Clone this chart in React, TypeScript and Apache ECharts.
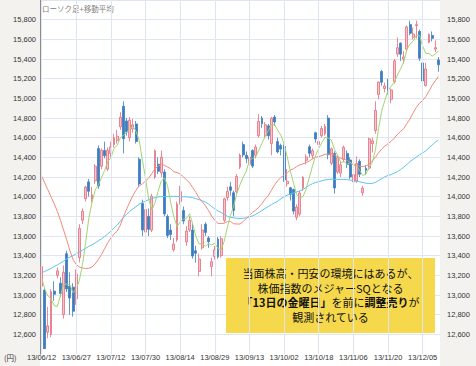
import React, { useEffect, useRef } from 'react';
import * as echarts from 'echarts';

const dates = [
  '13/06/12','13/06/13','13/06/14','13/06/17','13/06/18','13/06/19','13/06/20','13/06/21','13/06/24','13/06/25','13/06/26','13/06/27','13/06/28',
  '13/07/01','13/07/02','13/07/03','13/07/04','13/07/05','13/07/08','13/07/09','13/07/10','13/07/11','13/07/12',
  '13/07/16','13/07/17','13/07/18','13/07/19','13/07/22','13/07/23','13/07/24','13/07/25','13/07/26','13/07/29','13/07/30','13/07/31',
  '13/08/01','13/08/02','13/08/05','13/08/06','13/08/07','13/08/08','13/08/09','13/08/12','13/08/13','13/08/14',
  '13/08/15','13/08/16','13/08/19','13/08/20','13/08/21','13/08/22','13/08/23','13/08/26','13/08/27','13/08/28','13/08/29','13/08/30',
  '13/09/02','13/09/03','13/09/04','13/09/05','13/09/06','13/09/09','13/09/10','13/09/11','13/09/12','13/09/13',
  '13/09/17','13/09/18','13/09/19','13/09/20','13/09/24','13/09/25','13/09/26','13/09/27','13/09/30',
  '13/10/01','13/10/02','13/10/03','13/10/04','13/10/07','13/10/08','13/10/09','13/10/10','13/10/11',
  '13/10/15','13/10/16','13/10/17','13/10/18','13/10/21','13/10/22','13/10/23','13/10/24','13/10/25','13/10/28','13/10/29','13/10/30','13/10/31',
  '13/11/01','13/11/05','13/11/06','13/11/07','13/11/08','13/11/11','13/11/12','13/11/13','13/11/14','13/11/15',
  '13/11/18','13/11/19','13/11/20','13/11/21','13/11/22','13/11/25','13/11/26','13/11/27','13/11/28','13/11/29',
  '13/12/02','13/12/03','13/12/04','13/12/05','13/12/06','13/12/09','13/12/10','13/12/11','13/12/12'
];

const tickLabels = ['13/06/12','13/06/27','13/07/12','13/07/30','13/08/14','13/08/29','13/09/13','13/10/02','13/10/18','13/11/06','13/11/20','13/12/05'];

const openP = [
  13090,13050,12620,12600,13040,13200,13120,12800,13420,13090,13080,12960,13380,
  13760,13980,14150,13975,14160,14490,14310,14470,14280,14440,
  14530,14570,14710,14920,14770,14600,14690,14740,14380,13930,13640,13800,
  13660,14200,14330,14240,14250,13800,13660,13460,13560,13950,
  13860,13540,13660,13660,13450,13240,13480,13720,13580,13290,13390,13570,
  13400,13760,13990,14100,14040,14050,14300,14530,14420,14330,
  14470,14420,14620,14800,14620,14720,14540,14810,14560,
  14520,14510,14130,14090,14073,13790,13823,14090,14370,
  14507,14420,14650,14530,14620,14640,14800,14340,14440,14250,14240,14380,14440,
  14373,14150,14160,14360,14040,14290,14290,14540,14673,15040,
  15273,15100,15190,14990,15170,15450,15560,15400,15500,15750,
  15620,15740,15680,15360,15130,15570,15640,15500,15390
];
const closeP = [
  13289,12445,12686,13033,13007,13245,13014,13230,13062,12969,12834,13213,13677,
  13852,14098,14055,14018,14309,14109,14472,14416,14472,14506,
  14599,14615,14808,14589,14658,14778,14731,14562,14129,13661,13869,13668,
  14005,14466,14258,14401,13824,13605,13615,13519,13924,14050,
  13752,13650,13758,13396,13424,13365,13660,13636,13542,13338,13459,13388,
  13572,13978,14053,14064,13860,14205,14423,14425,14387,14404,
  14311,14505,14766,14742,14732,14620,14799,14760,14455,
  14484,14170,14157,14024,13853,13894,14037,14194,14404,
  14441,14467,14586,14561,14693,14713,14426,14486,14088,14396,14325,14502,14327,
  14201,14225,14337,14228,14086,14269,14588,14567,14876,15165,
  15164,15126,15076,15085,15381,15515,15449,15420,15727,15661,
  15655,15749,15407,15177,15299,15650,15610,15515,15341
];
const lowP = [
  13010,12420,12560,12570,12940,13170,12980,12760,13030,12800,12780,12900,13330,
  13720,13950,14000,13940,14130,14080,14280,14390,14260,14400,
  14500,14540,14680,14440,14620,14560,14650,14540,14100,13600,13600,13600,
  13640,14180,14230,14200,13800,13580,13560,13440,13540,13920,
  13720,13500,13640,13370,13330,13190,13460,13600,13480,13190,13360,13370,
  13380,13740,13960,14010,13800,14030,14280,14400,14340,14300,
  14290,14390,14600,14700,14600,14580,14420,14720,14440,
  14420,14150,14100,13960,13820,13760,13800,14060,14330,
  14400,14380,14550,14500,14600,14620,14380,14320,14030,14230,14200,14350,14290,
  14180,14110,14140,14200,14010,14220,14270,14450,14640,14990,
  15130,15060,15040,14950,15150,15420,15380,15350,15480,15640,
  15600,15610,15380,15140,15120,15560,15580,15470,15270
];
const highP = [
  13340,13070,12880,13060,13140,13280,13180,13300,13450,13230,13120,13260,13720,
  13880,14110,14180,14100,14330,14520,14490,14560,14500,14560,
  14640,14680,14860,14970,14800,14810,14790,14770,14400,13970,13920,13880,
  14030,14480,14400,14470,14280,13820,13720,13580,13950,14110,
  13900,13700,13800,13720,13500,13420,13720,13740,13600,13380,13500,13590,
  13600,13990,14100,14150,14060,14230,14440,14560,14460,14420,
  14480,14530,14840,14820,14760,14740,14810,14830,14600,
  14540,14530,14280,14100,14080,13920,14060,14210,14430,
  14530,14490,14660,14640,14720,14740,14830,14500,14460,14420,14360,14520,14470,
  14400,14300,14410,14380,14110,14320,14600,14600,14970,15170,
  15290,15160,15200,15100,15400,15620,15570,15480,15740,15790,
  15720,15790,15700,15380,15360,15660,15680,15590,15420
];

const ma5 = [
  13180,13060,12990,12960,12892,12883,12997,13106,13112,13104,13022,13062,13151,
  13309,13535,13779,13940,14066,14118,14193,14265,14356,14395,
  14493,14522,14600,14623,14654,14690,14713,14664,14572,14372,14190,13978,
  13866,13934,14053,14160,14191,14111,13941,13793,13697,13743,
  13772,13779,13827,13721,13596,13519,13521,13496,13525,13508,13527,13473,
  13460,13547,13690,13811,13905,14032,14121,14195,14260,14369,
  14390,14406,14475,14546,14611,14673,14732,14731,14673,
  14624,14534,14405,14258,14138,14020,13993,14000,14076,
  14194,14309,14418,14492,14550,14604,14596,14576,14481,14422,14344,14359,14328,
  14350,14316,14318,14264,14215,14229,14302,14348,14477,14693,
  14872,14980,15081,15123,15166,15237,15301,15370,15498,15554,
  15582,15642,15640,15530,15457,15456,15429,15450,15483
];
const ma25 = [
  14210,14140,14070,14000,13930,13850,13760,13660,13560,13450,13360,13310,13285,
  13275,13270,13272,13285,13315,13360,13410,13470,13530,13580,
  13620,13649,13710,13796,13874,13944,14013,14066,14110,14128,14160,14188,
  14235,14285,14308,14330,14319,14301,14285,14253,14246,14229,
  14203,14170,14140,14092,14044,13986,13949,13908,13859,13803,13759,13729,
  13726,13730,13746,13748,13724,13722,13722,13746,13778,13809,
  13841,13864,13893,13932,13976,14010,14066,14120,14163,
  14196,14218,14242,14270,14285,14306,14324,14333,14347,
  14362,14386,14402,14407,14418,14431,14432,14439,14422,14407,14391,14381,14370,
  14346,14324,14320,14309,14306,14311,14333,14362,14401,14446,
  14485,14514,14539,14564,14596,14634,14664,14692,14744,14791,
  14854,14908,14951,14978,15017,15075,15131,15178,15222
];
const ma75 = [
  13225,13240,13255,13270,13290,13305,13325,13345,13370,13385,13400,13420,13440,
  13455,13475,13495,13510,13530,13550,13570,13595,13620,13650,
  13680,13710,13750,13790,13820,13850,13875,13900,13925,13940,13955,13970,
  13980,13990,13997,14000,14002,14003,14003,14003,14002,14001,
  14000,13998,13995,13990,13980,13970,13958,13945,13925,13900,13875,13855,
  13840,13820,13800,13790,13785,13780,13778,13780,13785,13795,
  13805,13820,13840,13860,13880,13900,13920,13938,13953,
  13980,14000,14015,14029,14037,14048,14059,14074,14093,
  14115,14132,14144,14153,14161,14170,14175,14178,14177,14176,14175,14176,14173,
  14168,14163,14156,14152,14144,14137,14135,14135,14145,14165,
  14183,14202,14216,14225,14240,14254,14276,14300,14328,14357,
  14380,14403,14425,14445,14466,14496,14525,14554,14576
];

const title = 'ローソク足+移動平均';
const noteLines = ['当面株高・円安の環境にはあるが、', '株価指数のメジャーSQとなる', '{b|「13日の金曜日」}を前に{b|調整売り}が', '観測されている'];
const yUnit = '(円)';

export default function App() {
  const ref = useRef<HTMLDivElement>(null);
  useEffect(() => {
    if (!ref.current) return;
    const chart = echarts.init(ref.current, undefined, { renderer: 'svg' });
    const candles = dates.map((_, i) => [openP[i], closeP[i], lowP[i], highP[i]]);
    const labelFont = 'Liberation Sans, Arial, sans-serif';
    const jp = '"Noto Sans CJK JP", sans-serif';
    const yFmt = (v: number) => (v < 12600 || v > 15800 ? '' : v.toLocaleString('en-US'));
    const gridColor = '#dfe6f1';
    chart.setOption({
      animation: false,
      backgroundColor: '#ffffff',
      grid: { left: 40, right: 36, top: -6, bottom: 12, containLabel: false },
      xAxis: {
        type: 'category',
        data: dates,
        boundaryGap: true,
        offset: -6,
        z: 100,
        axisLine: { show: false },
        axisTick: { show: false },
        axisLabel: {
          interval: (i: number) => i % 11 === 0,
          formatter: (_v: string, i: number) => tickLabels[Math.round(i / 11)] ?? '',
          color: '#333',
          fontSize: 7.5,
          fontFamily: labelFont,
          margin: 5,
        },
        splitLine: {
          show: true,
          interval: (i: number) => i % 11 === 0,
          alignWithLabel: true,
          lineStyle: { color: gridColor, width: 1 },
        },
      },
      yAxis: [
        {
          type: 'value', position: 'left', min: 12400, max: 16000, interval: 200,
          axisLine: { show: true, lineStyle: { color: '#8c8c8c' } },
          axisTick: { show: false },
          axisLabel: { formatter: yFmt, color: '#333', fontSize: 7.5, fontFamily: labelFont, margin: 4 },
          splitLine: { show: true, lineStyle: { color: gridColor, width: 1 } },
        },
        {
          type: 'value', position: 'right', min: 12400, max: 16000, interval: 200,
          axisLine: { show: false },
          axisTick: { show: false },
          axisLabel: { formatter: yFmt, color: '#333', fontSize: 7.5, fontFamily: labelFont, margin: 7 },
          splitLine: { show: false },
        },
      ],
      series: [
        {
          type: 'candlestick',
          data: candles,
          barWidth: 2.4,
          itemStyle: {
            color: '#f6c4cc', color0: '#3c7dc0',
            borderColor: '#e46c7c', borderColor0: '#3c7dc0', borderWidth: 0.8,
          },
          z: 3,
        },
        { type: 'line', data: ma75, symbol: 'none', lineStyle: { color: '#5ec3ee', width: 1 }, z: 4 },
        { type: 'line', data: ma25, symbol: 'none', lineStyle: { color: '#f28a7a', width: 1 }, z: 4 },
        { type: 'line', data: ma5, symbol: 'none', lineStyle: { color: '#9fd672', width: 1 }, z: 4 },
      ],
      graphic: [
        { type: 'rect', z: -10, shape: { x: 0, y: 0, width: 40, height: 366 }, style: { fill: '#f3f2ef' } },
        { type: 'rect', z: -10, shape: { x: 440, y: 0, width: 36, height: 366 }, style: { fill: '#f3f2ef' } },
        { type: 'rect', z: 50, shape: { x: 41, y: 349, width: 399, height: 17 }, style: { fill: '#ffffff' } },
        { type: 'text', z: 60, x: 42, y: 8, style: { text: title, fill: '#808080', fontSize: 7.5, fontFamily: jp, verticalAlign: 'middle' } },
        { type: 'text', z: 60, x: 4, y: 357, style: { text: yUnit, fill: '#333', fontSize: 7.5, fontFamily: jp, verticalAlign: 'middle' } },
        { type: 'rect', z: 60, shape: { x: 226, y: 258, width: 209, height: 75 }, style: { fill: '#f6d84c' } },
        ...noteLines.map((t, k) => ({
          type: 'text', z: 61, x: 330.5, y: 273 + k * 14.6,
          style: {
            text: t, fill: '#111', fontSize: 11, fontFamily: jp, align: 'center', verticalAlign: 'middle',
            rich: { b: { fontSize: 11, fontFamily: jp, fontWeight: 'bold', fill: '#111' } },
          },
        })),
      ],
    });
    return () => chart.dispose();
  }, []);
  return <div ref={ref} style={{ position: 'fixed', left: 0, top: 0, width: 476, height: 366 }} />;
}
